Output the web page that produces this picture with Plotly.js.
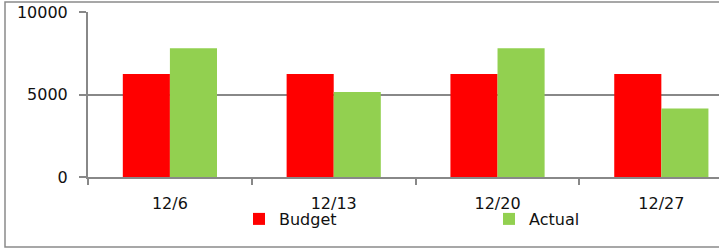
<!DOCTYPE html>
<html><head><meta charset="utf-8">
<script src="https://cdn.plot.ly/plotly-3.0.1.min.js"></script>
<style>html,body{margin:0;padding:0;overflow:hidden;background:#fff}</style>
</head><body><div id="chart" style="width:719px;height:248px"></div>
<script>
const categories = ["12/6", "12/13", "12/20", "12/27"];
const budget = [6250, 6250, 6250, 6250];
const actual = [7800, 5150, 7800, 4150];
const yTicks = [0, 5000, 10000];

const gridColor = "#888888";
const fontFam = "DejaVu Sans, Verdana, sans-serif";
const L = 88, T = 12, W = 719, H = 248, B = 71;
const pw = W - L, ph = H - T - B;

const data = [
  {type: "bar", name: "Budget", x: categories, y: budget, marker: {color: "#ff0000"}, legend: "legend"},
  {type: "bar", name: "Actual", x: categories, y: actual, marker: {color: "#92d050"}, legend: "legend2"}
];
function leg(px) {
  return {
    orientation: "h", x: (px - L) / pw, xanchor: "left",
    y: -(219 - 177) / ph, yanchor: "middle",
    font: {size: 16}, itemwidth: 30, bgcolor: "rgba(0,0,0,0)"
  };
}
const layout = {
  width: W, height: H,
  margin: {l: L, r: 0, t: T, b: B, pad: 0},
  paper_bgcolor: "#fff", plot_bgcolor: "#fff",
  barmode: "group", bargap: 0.425, bargroupgap: 0,
  font: {family: fontFam, size: 15, color: "#111"},
  xaxis: {
    type: "category", range: [-0.5, 3.352],
    tickson: "boundaries", ticks: "outside", ticklen: 6, tickwidth: 2, tickcolor: gridColor,
    showline: true, linecolor: gridColor, linewidth: 2,
    showgrid: false, tickfont: {size: 16}, ticklabelstandoff: 11
  },
  yaxis: {
    range: [0, 10000], tickvals: yTicks, ticktext: yTicks.map(String),
    ticks: "outside", ticklen: 7, tickwidth: 2, tickcolor: gridColor,
    showline: true, linecolor: gridColor, linewidth: 2,
    showgrid: true, gridcolor: gridColor, gridwidth: 2, zeroline: false,
    tickfont: {size: 16}, ticklabelstandoff: 8
  },
  showlegend: true,
  legend: leg(239),
  legend2: leg(489),
  shapes: [{
    type: "rect", xref: "paper", yref: "paper",
    x0: (5 - L) / pw, x1: (730 - L) / pw,
    y0: -(247 - 177) / ph, y1: 1 + (T - 2) / ph,
    line: {color: "#8a8a8a", width: 1.5}, layer: "below"
  }]
};
Plotly.newPlot("chart", data, layout, {displayModeBar: false, staticPlot: true});
</script></body></html>
